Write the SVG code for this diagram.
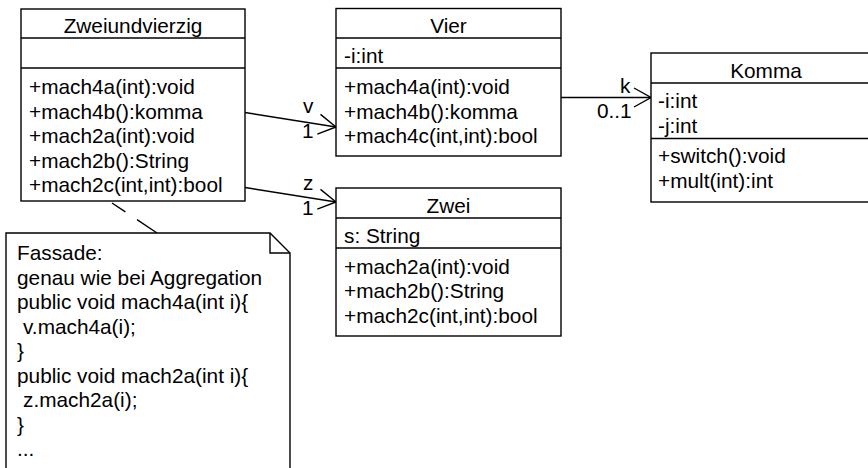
<svg xmlns="http://www.w3.org/2000/svg" width="868" height="468" viewBox="0 0 868 468">
<style>
text{font-family:"Liberation Sans",Arial,Helvetica,sans-serif;font-size:20.8px;fill:#000}
.box{fill:#fff;stroke:#000;stroke-width:1.4}
.ln{stroke:#000;stroke-width:1.4;fill:none}
.c{text-anchor:middle}
.dash{stroke-dasharray:24,14}
</style>
<rect width="868" height="468" fill="#fff"/>
<g id="connectors">
<line class="ln" x1="245" y1="112.5" x2="336" y2="127"/>
<path class="ln" d="M320.5,114.4 L336,127 L317.3,134.2"/>
<line class="ln" x1="245" y1="187.5" x2="336" y2="202"/>
<path class="ln" d="M320.5,189.4 L336,202 L317.3,209.2"/>
<line class="ln" x1="561" y1="97.5" x2="651" y2="97.5"/>
<path class="ln" d="M634,88 L651,97.5 L634,107"/>
<line class="ln dash" x1="157" y1="233" x2="112" y2="203"/>
<text x="303" y="113">v</text>
<text x="302" y="138">1</text>
<text x="303" y="190">z</text>
<text x="302" y="215">1</text>
<text x="620" y="93">k</text>
<text x="597" y="118">0..1</text>
</g>
<g id="Zweiundvierzig">
<rect class="box" x="21" y="9" width="224" height="192"/>
<line class="ln" x1="21" y1="38" x2="245" y2="38"/>
<line class="ln" x1="21" y1="68" x2="245" y2="68"/>
<text class="c" x="133" y="33">Zweiundvierzig</text>
<text x="29" y="94">+mach4a(int):void</text>
<text x="29" y="118.5">+mach4b():komma</text>
<text x="29" y="143">+mach2a(int):void</text>
<text x="29" y="167.5">+mach2b():String</text>
<text x="29" y="192">+mach2c(int,int):bool</text>
</g>
<g id="Vier">
<rect class="box" x="336" y="8.5" width="225" height="147.5"/>
<line class="ln" x1="336" y1="38" x2="561" y2="38"/>
<line class="ln" x1="336" y1="68" x2="561" y2="68"/>
<text class="c" x="448.5" y="33">Vier</text>
<text x="344" y="63">-i:int</text>
<text x="344" y="94">+mach4a(int):void</text>
<text x="344" y="118.5">+mach4b():komma</text>
<text x="344" y="143">+mach4c(int,int):bool</text>
</g>
<g id="Zwei">
<rect class="box" x="336" y="188" width="225" height="148"/>
<line class="ln" x1="336" y1="218" x2="561" y2="218"/>
<line class="ln" x1="336" y1="248" x2="561" y2="248"/>
<text class="c" x="448.5" y="213">Zwei</text>
<text x="344" y="243">s: String</text>
<text x="344" y="273.5">+mach2a(int):void</text>
<text x="344" y="298">+mach2b():String</text>
<text x="344" y="322.5">+mach2c(int,int):bool</text>
</g>
<g id="Komma">
<rect class="box" x="651" y="53" width="230" height="149"/>
<line class="ln" x1="651" y1="83" x2="881" y2="83"/>
<line class="ln" x1="651" y1="138.5" x2="881" y2="138.5"/>
<text class="c" x="766" y="78">Komma</text>
<text x="658" y="108">-i:int</text>
<text x="658" y="133">-j:int</text>
<text x="658" y="163">+switch():void</text>
<text x="658" y="187.5">+mult(int):int</text>
</g>
<g id="note">
<path class="box" d="M6,233 L270,233 L290,253 L290,480 L6,480 Z"/>
<path class="ln" d="M270,233 L270,253 L290,253"/>
<text x="17" y="260">Fassade:</text>
<text x="17" y="284.5">genau wie bei Aggregation</text>
<text x="17" y="309">public void mach4a(int i){</text>
<text x="23" y="333.5">v.mach4a(i);</text>
<text x="17" y="358">}</text>
<text x="17" y="382.5">public void mach2a(int i){</text>
<text x="23" y="407">z.mach2a(i);</text>
<text x="17" y="431.5">}</text>
<text x="17" y="456">...</text>
</g>
</svg>
